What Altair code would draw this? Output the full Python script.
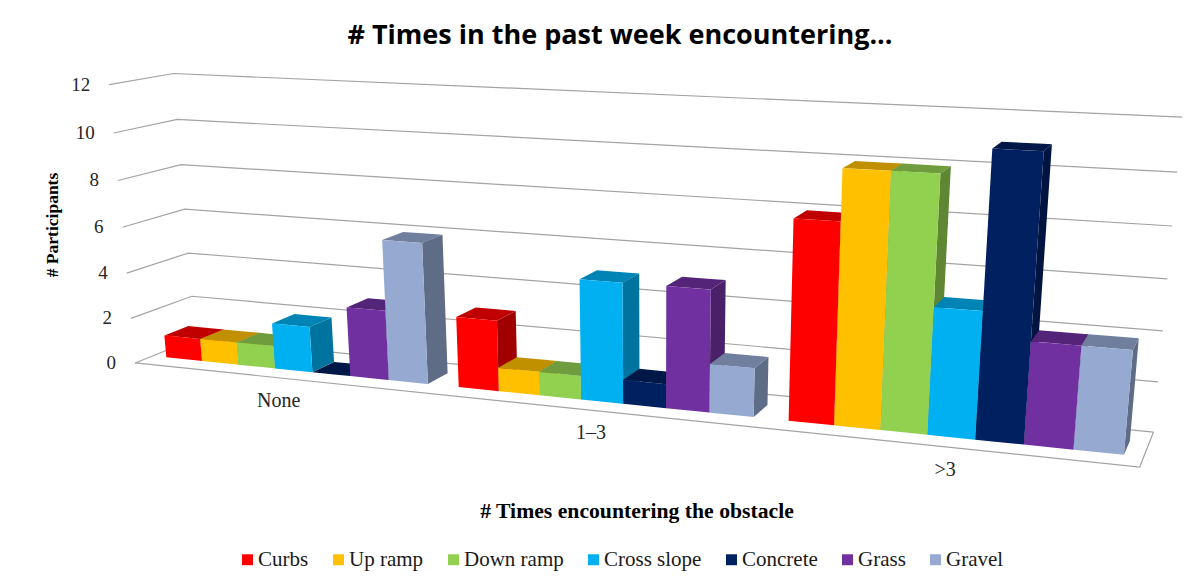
import altair as alt
import numpy as np
import pandas as pd

categories = ["None", "1–3", ">3"]
series = ["Curbs", "Up ramp", "Down ramp", "Cross slope", "Concrete", "Grass", "Gravel"]
curbs = [1, 3, 8]
up_ramp = [1, 1, 10]
down_ramp = [1, 1, 10]
cross_slope = [2, 5, 5]
concrete = [0, 1, 11]
grass = [3, 5, 4]
gravel = [6, 2, 4]
values = [curbs, up_ramp, down_ramp, cross_slope, concrete, grass, gravel]
y_ticks = [0, 2, 4, 6, 8, 10, 12]

front_colors = ["#FF0000", "#FFC000", "#92D050", "#00B0F0", "#002060", "#7030A0", "#95A9D1"]
top_colors = ["#C00000", "#C09000", "#6F9C3C", "#0084B5", "#001848", "#542478", "#707F9E"]
side_colors = ["#A00000", "#A07800", "#5F8633", "#00739E", "#00143F", "#4A2069", "#5F6C86"]

W, H = 1185, 563
OFF = 8

# Camera calibration of the 3-D chart box: (across 0-1, depth 0-1, value) -> page position
front_left = {0: (135, 362), 2: (131, 318), 4: (127, 273), 6: (122, 228), 8: (118, 181), 10: (114, 133), 12: (109, 85)}
back_left = {0: (196, 340), 2: (192, 296), 4: (188, 253), 6: (184, 209), 8: (180, 165), 10: (177, 119), 12: (175, 73)}
back_right = {0: (1153, 432), 2: (1158, 382), 4: (1163, 331), 6: (1168, 279), 8: (1172, 226), 10: (1177, 172), 12: (1182, 117)}
front_right_floor = (1140, 467)

corr = []
for v, p in front_left.items():
    corr.append(((0, 0, v), p))
for v, p in back_left.items():
    corr.append(((0, 1, v), p))
for v, p in back_right.items():
    corr.append(((1, 1, v), p))
corr.append(((1, 0, 0), front_right_floor))

A, b = [], []
for (X, Y, Z), (u, v) in corr:
    A.append([X, Y, Z, 1, 0, 0, 0, 0, -u * X, -u * Y, -u * Z])
    b.append(u)
    A.append([0, 0, 0, 0, X, Y, Z, 1, -v * X, -v * Y, -v * Z])
    b.append(v)
m = np.linalg.lstsq(np.array(A, float), np.array(b, float), rcond=None)[0]
P = np.append(m, 1.0).reshape(3, 4)


def project(s, d, v):
    q = P @ np.array([s, d, v, 1.0])
    return float(q[0] / q[2]) - OFF, float(q[1] / q[2]) - OFF


def to_area(poly):
    xs = sorted({round(p[0], 2) for p in poly})
    rows = []
    n = len(poly)
    for x in xs:
        ys = []
        for i in range(n):
            x0, y0 = poly[i]
            x1, y1 = poly[(i + 1) % n]
            x0, x1 = round(x0, 2), round(x1, 2)
            if min(x0, x1) <= x <= max(x0, x1):
                if x0 == x1:
                    ys += [y0, y1]
                else:
                    ys.append(y0 + (y1 - y0) * (x - x0) / (x1 - x0))
        rows.append((x, min(ys), max(ys)))
    return rows


D0, D1 = 0.28, 0.68
GAP = 0.90  # slot share taken by the seven bars
face_rows = []
fid = 0


def add_face(poly, key):
    global fid
    fid += 1
    for x, lo, hi in to_area(poly):
        face_rows.append({"x": x, "y": lo, "y2": hi, "face": f"f{fid:03d}", "key": key})


for c in range(len(categories)):
    bw = GAP / 3 / 7
    start = (c + (1 - GAP) / 2) / 3
    for k, name in enumerate(series):
        s0, s1 = start + k * bw, start + (k + 1) * bw
        val = values[k][c]
        if val > 0:
            add_face([project(s1, D0, 0), project(s1, D1, 0), project(s1, D1, val), project(s1, D0, val)], name + " side")
        add_face([project(s0, D0, val), project(s1, D0, val), project(s1, D1, val), project(s0, D1, val)], name + " top")
        if val > 0:
            add_face([project(s0, D0, 0), project(s1, D0, 0), project(s1, D0, val), project(s0, D0, val)], name)

faces = pd.DataFrame(face_rows)

line_rows = []
for t in y_ticks:
    for i, (s, d) in enumerate([(0, 0), (0, 1), (1, 1)]):
        x, y = project(s, d, t)
        line_rows.append({"x": x, "y": y, "i": i, "line": f"g{t}"})
for i, (s, d) in enumerate([(0, 0), (1, 0), (1, 1)]):
    x, y = project(s, d, 0)
    line_rows.append({"x": x, "y": y, "i": i, "line": "floor"})
lines = pd.DataFrame(line_rows)

X = alt.X("x:Q", scale=alt.Scale(domain=[0, W], nice=False, zero=False), axis=None)
Y = alt.Y("y:Q", scale=alt.Scale(domain=[H, 0], nice=False, zero=False), axis=None, stack=None)

domain = series + [s + " top" for s in series] + [s + " side" for s in series]
rng = front_colors + top_colors + side_colors

grid = alt.Chart(lines).mark_line(color="#a3a3a3", strokeWidth=1.2).encode(
    x=X, y=Y, detail="line:N", order="i:Q"
)

bars = alt.Chart(faces).mark_area(interpolate="linear", opacity=1).encode(
    x=X,
    y=Y,
    y2="y2:Q",
    detail="face:N",
    color=alt.Color(
        "key:N",
        scale=alt.Scale(domain=domain, range=rng),
        legend=alt.Legend(
            values=series,
            title=None,
            orient="none",
            legendX=229,
            legendY=541,
            direction="horizontal",
            columns=7,
            symbolType="square",
            symbolSize=120,
            symbolStrokeWidth=0,
            labelFont="Liberation Serif",
            labelFontSize=21,
            labelColor="#1a1a1a",
            labelOffset=0,
            columnPadding=19,
        ),
    ),
)


def text_layer(rows, font, size, weight="normal", color="#262626", angle=0, align="center"):
    return alt.Chart(pd.DataFrame(rows)).mark_text(
        font=font, fontSize=size, fontWeight=weight, color=color, angle=angle, align=align, baseline="middle"
    ).encode(x=X, y=Y, text="t:N")


tick_rows = []
for t in y_ticks:
    x, y = project(0, 0, t)
    tick_rows.append({"x": x - 19, "y": y, "t": str(t)})
ticks = text_layer(tick_rows, "Liberation Serif", 19, align="right")

cat_rows = []
for i, name in enumerate(categories):
    x, y = project((i + 0.5) / 3, 0, 0)
    cat_rows.append({"x": x + 1, "y": y + 23, "t": name})
cats = text_layer(cat_rows, "Liberation Serif", 20)

title = text_layer([{"x": 620 - OFF, "y": 36 - OFF, "t": "# Times in the past week encountering..."}],
                   "Open Sans", 27, "bold", "#000000")
xtitle = text_layer([{"x": 637 - OFF, "y": 511 - OFF, "t": "# Times encountering the obstacle"}],
                    "Liberation Serif", 21.7, "bold", "#000000")
ytitle = text_layer([{"x": 53 - OFF, "y": 225 - OFF, "t": "# Participants"}],
                    "Liberation Serif", 17.5, "bold", "#000000", angle=270)

chart = alt.layer(grid, bars, ticks, cats, title, xtitle, ytitle).properties(
    width=W, height=H, padding=0, autosize="none", background="white"
).configure_view(stroke=None)

chart.save("out.html", embed_options={"renderer": "svg", "actions": False})
